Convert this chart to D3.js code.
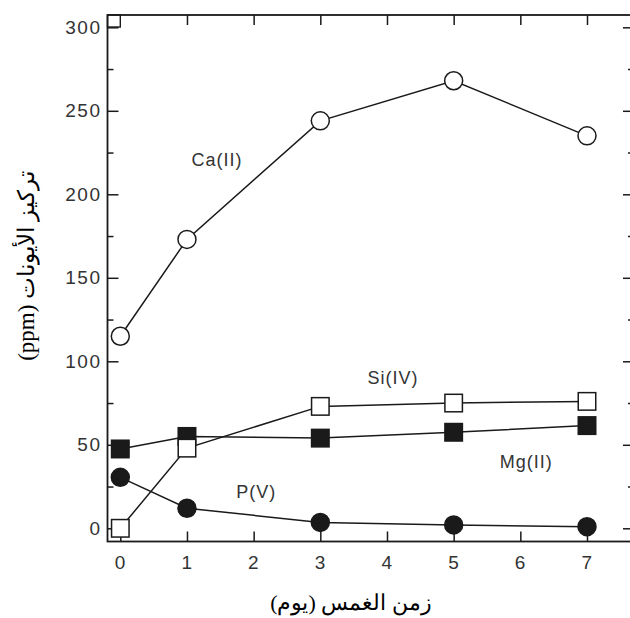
<!DOCTYPE html>
<html>
<head>
<meta charset="utf-8">
<script src="https://cdn.jsdelivr.net/npm/d3@7"></script>
<style>
  html, body { margin: 0; padding: 0; background: #fff; }
  svg { display: block; }
</style>
</head>
<body>
<div id="chart"></div>
<script>
// dados (dias x ppm)
const days = [0, 1, 3, 5, 7];
const caII = [115, 173, 244, 268, 235];
const pV   = [30.5, 12, 3.5, 2, 1];
const mgII = [47.5, 55, 54, 57.5, 61.5];
const siIV = [0, 48, 73, 75, 76];

const xTicks = [0, 1, 2, 3, 4, 5, 6, 7];
const topTicks = [1, 2, 3, 4, 5, 6, 7];
const yMajor = [0, 50, 100, 150, 200, 250, 300];
const yMinor = [25, 75, 125, 175, 225, 275];

// rótulos das séries, ancorados em unidades de dados
const labelText = ['Ca(II)', 'Si(IV)', 'Mg(II)', 'P(V)'];
const labelDay  = [1.45, 4.09, 6.09, 2.04];
const labelPpm  = [220.5, 90, 39.7, 21.8];

const xTitle = 'زمن الغمس (يوم)';
const yTitle = 'تركيز الأيونات (ppm)';

(function () {
  'use strict';

  const W = 630, H = 618;
  const margin = { top: 15, left: 107.5 };
  const innerW = 526.5, innerH = 526.5;
  const ink = '#1a1a1a';
  const tickFont = '"Liberation Sans", Arial, Helvetica, sans-serif';

  const svg = d3.select('#chart').append('svg')
    .attr('width', W).attr('height', H)
    .attr('viewBox', `0 0 ${W} ${H}`);

  const g = svg.append('g').attr('transform', `translate(${margin.left},${margin.top})`);

  const x = d3.scaleLinear().domain([0, 7]).range([12.8, 479.5]);
  const y = d3.scaleLinear().domain([0, 300]).range([513.3, 12.3]);

  // moldura
  g.append('rect')
    .attr('x', 0).attr('y', 0)
    .attr('width', innerW).attr('height', innerH)
    .attr('fill', 'none').attr('stroke', ink).attr('stroke-width', 1.8);

  // quadradinho no canto superior esquerdo
  g.append('rect')
    .attr('x', 0).attr('y', 0)
    .attr('width', x(0)).attr('height', x(0) - 0.8)
    .attr('fill', 'none').attr('stroke', ink).attr('stroke-width', 1.4);

  function styleAxis(sel, withText) {
    sel.select('.domain').remove();
    sel.selectAll('line').attr('stroke', ink).attr('stroke-width', 1.5);
    if (withText) {
      sel.selectAll('text')
        .attr('fill', '#333')
        .style('font-family', tickFont)
        .style('font-size', '19px')
        .style('letter-spacing', '1.5px');
    } else {
      sel.selectAll('text').remove();
    }
  }

  // eixo X inferior
  g.append('g')
    .attr('transform', `translate(0,${innerH})`)
    .call(d3.axisBottom(x).tickValues(xTicks).tickSize(-10).tickPadding(14).tickFormat(d3.format('d')))
    .call(sel => styleAxis(sel, true));

  // eixo superior (só marcas)
  g.append('g')
    .call(d3.axisTop(x).tickValues(topTicks).tickSize(-10))
    .call(sel => styleAxis(sel, false));

  // eixo Y esquerdo
  g.append('g')
    .call(d3.axisLeft(y).tickValues(yMajor).tickSize(-11).tickPadding(6).tickFormat(d3.format('d')))
    .call(sel => styleAxis(sel, true));
  g.append('g')
    .call(d3.axisLeft(y).tickValues(yMinor).tickSize(-6))
    .call(sel => styleAxis(sel, false));

  // eixo Y direito (só marcas)
  g.append('g')
    .attr('transform', `translate(${innerW},0)`)
    .call(d3.axisRight(y).tickValues(yMajor).tickSize(-11))
    .call(sel => styleAxis(sel, false));
  g.append('g')
    .attr('transform', `translate(${innerW},0)`)
    .call(d3.axisRight(y).tickValues(yMinor).tickSize(-6))
    .call(sel => styleAxis(sel, false));

  // séries: ordem de desenho igual à da figura
  const series = [
    { values: caII, shape: 'circle', fill: '#fff' },
    { values: pV,   shape: 'circle', fill: ink },
    { values: mgII, shape: 'square', fill: ink },
    { values: siIV, shape: 'square', fill: '#fff' }
  ];

  const line = d3.line().x(d => x(d[0])).y(d => y(d[1]));

  series.forEach(s => {
    const pts = days.map((d, i) => [d, s.values[i]]);
    g.append('path')
      .attr('d', line(pts))
      .attr('fill', 'none').attr('stroke', ink).attr('stroke-width', 1.5);

    if (s.shape === 'circle') {
      g.selectAll(null).data(pts).join('circle')
        .attr('cx', d => x(d[0])).attr('cy', d => y(d[1]))
        .attr('r', 9)
        .attr('fill', s.fill).attr('stroke', ink).attr('stroke-width', 1.5);
    } else {
      const side = 17.5;
      g.selectAll(null).data(pts).join('rect')
        .attr('x', d => x(d[0]) - side / 2).attr('y', d => y(d[1]) - side / 2)
        .attr('width', side).attr('height', side)
        .attr('fill', s.fill).attr('stroke', ink).attr('stroke-width', 1.5);
    }
  });

  // nomes das séries
  g.selectAll(null).data(labelText).join('text')
    .attr('x', (d, i) => x(labelDay[i]))
    .attr('y', (d, i) => y(labelPpm[i]))
    .attr('dy', '0.35em')
    .attr('text-anchor', 'middle')
    .attr('fill', '#333')
    .style('font-family', tickFont)
    .style('font-size', '18px')
    .style('letter-spacing', '1px')
    .text(d => d);

  // títulos dos eixos
  svg.append('text')
    .attr('x', 351).attr('y', 610)
    .attr('text-anchor', 'middle')
    .attr('direction', 'rtl')
    .attr('fill', '#000')
    .style('font-family', '"Liberation Serif", "Times New Roman", serif')
    .style('font-size', '22px')
    .text(xTitle);

  svg.append('text')
    .attr('transform', 'translate(34,266) rotate(-90)')
    .attr('text-anchor', 'middle')
    .attr('direction', 'rtl')
    .attr('fill', '#000')
    .style('font-family', '"Liberation Serif", "Times New Roman", serif')
    .style('font-size', '23px')
    .text(yTitle);
})();
</script>
</body>
</html>
